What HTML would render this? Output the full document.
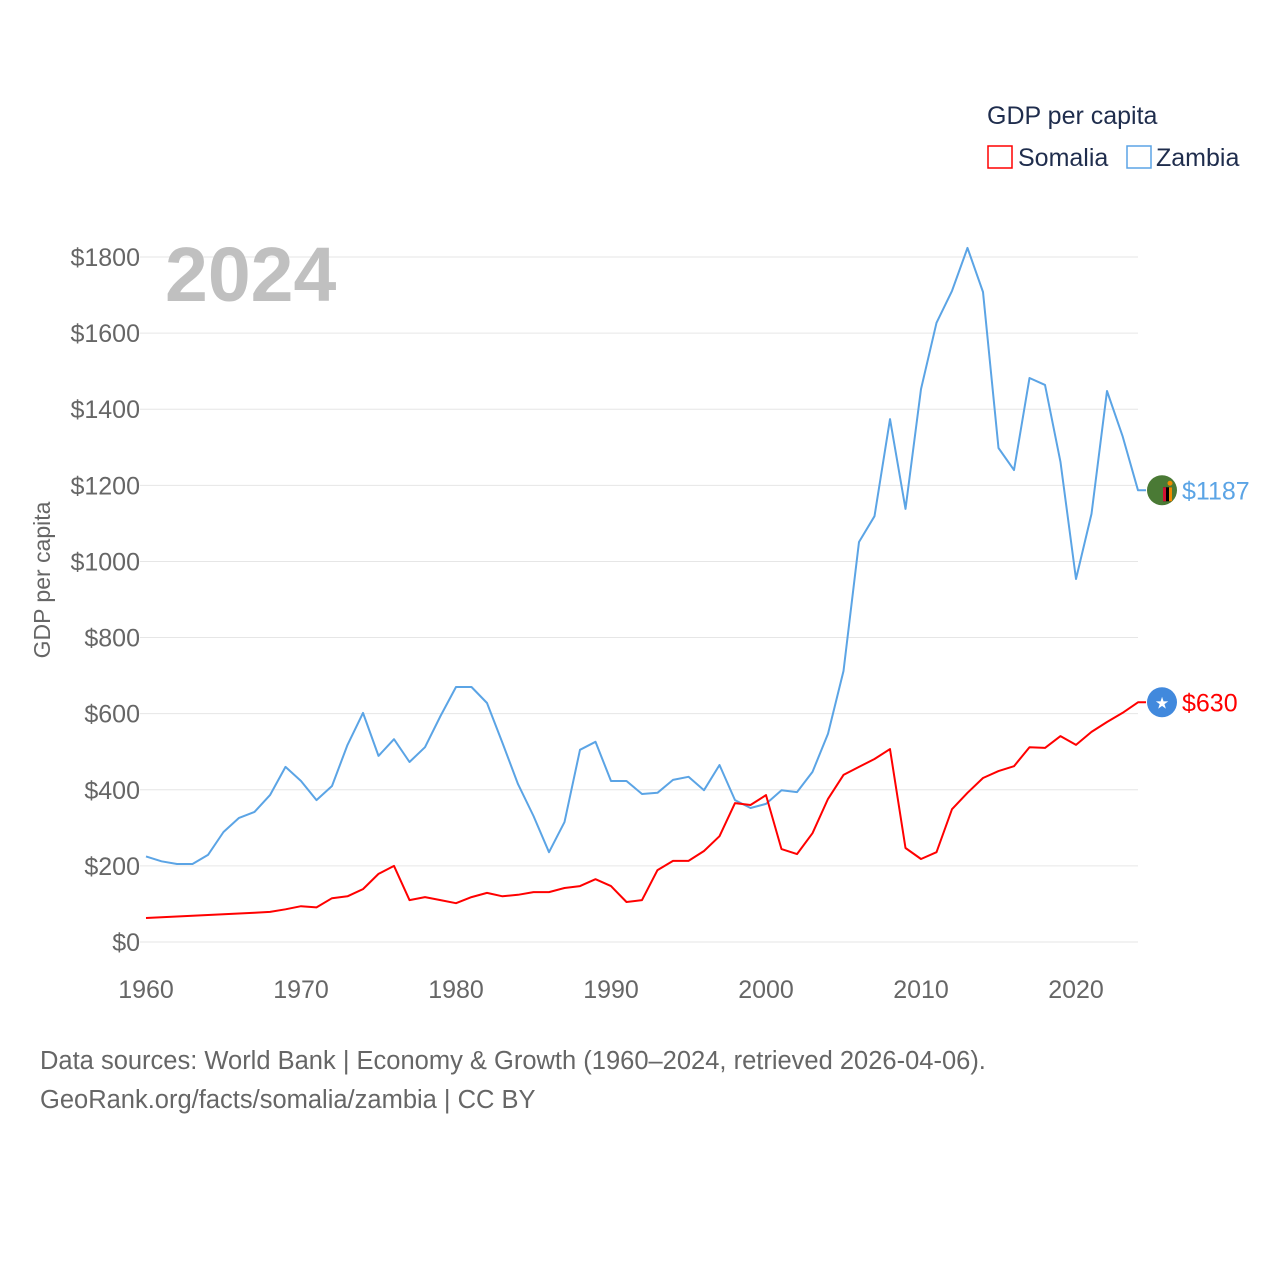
<!DOCTYPE html>
<html><head><meta charset="utf-8"><style>
body{margin:0;background:#fff;font-family:"Liberation Sans",sans-serif}
svg text{font-family:"Liberation Sans",sans-serif}
</style></head><body>
<svg id="chart" width="1280" height="1280" xmlns="http://www.w3.org/2000/svg">
<g id="grid"></g>
<g id="yticks"></g>
<g id="xticks"></g>
<text x="165" y="301" font-size="77" font-weight="bold" fill="#c0c0c0">2024</text>
<text transform="translate(50,580) rotate(-90)" text-anchor="middle" font-size="23" fill="#666">GDP per capita</text>
<g id="series"></g>
<g>
<text x="987" y="124" font-size="25" fill="#1f2d4d">GDP per capita</text>
<rect x="988" y="146" width="24" height="22" fill="none" stroke="#ff0000" stroke-width="1.5"/>
<text x="1018" y="166" font-size="25" fill="#1f2d4d">Somalia</text>
<rect x="1127" y="146" width="24" height="22" fill="none" stroke="#5ba4e5" stroke-width="1.5"/>
<text x="1156" y="166" font-size="25" fill="#1f2d4d">Zambia</text>
</g>
<text x="40" y="1069" font-size="25.5" fill="#666">Data sources: World Bank | Economy &amp; Growth (1960–2024, retrieved 2026-04-06).</text>
<text x="40" y="1108" font-size="25.5" fill="#666">GeoRank.org/facts/somalia/zambia | CC BY</text>
</svg>
<script>
const years=[];for(let y=1960;y<=2024;y++)years.push(y);
const zambia=[225,212,205,205,229,289,326,342,386,460,423,373,410,518,602,489,533,473,512,594,670,670,628,523,415,331,236,315,505,526,423,423,389,392,426,434,399,465,373,352,363,399,394,447,547,712,1051,1119,1374,1138,1453,1627,1711,1824,1708,1298,1240,1482,1464,1261,954,1125,1448,1330,1187];
const somalia=[63,65,67,69,71,73,75,77,79,86,94,91,115,120,139,179,200,110,118,110,102,118,129,120,124,131,131,142,147,165,147,105,110,189,213,213,239,278,365,360,386,244,231,286,376,439,460,481,507,247,218,236,349,392,431,449,462,512,510,541,518,552,578,602,630];
const yTicks=[0,200,400,600,800,1000,1200,1400,1600,1800];
const xTicks=[1960,1970,1980,1990,2000,2010,2020];
const NS="http://www.w3.org/2000/svg";
const X=y=>146+(y-1960)*15.5;
const Y=v=>942-v*685/1800;
function mk(t,a,p){const e=document.createElementNS(NS,t);for(const k in a)e.setAttribute(k,a[k]);p.appendChild(e);return e;}
const grid=document.getElementById('grid'),yt=document.getElementById('yticks'),xt=document.getElementById('xticks'),ser=document.getElementById('series');
yTicks.forEach(v=>{
 const l=mk('line',{x1:140,x2:1138,y1:Y(v),y2:Y(v),stroke:'#e6e6e6','stroke-width':1},grid);
 
 
 const t=mk('text',{x:140,y:Y(v)+9,'text-anchor':'end','font-size':25,fill:'#666'},yt);
 t.textContent='$'+v;
 
 
});
xTicks.forEach(v=>{
 const t=mk('text',{x:X(v),y:998,'text-anchor':'middle','font-size':25,fill:'#666'},xt);
 t.textContent=v;
 
 
});
function line(vals,col,name){
 let d=vals.map((v,i)=>(i?'L':'M')+X(years[i]).toFixed(1)+','+Y(v).toFixed(1)).join(' ');
 d+=' L'+(X(2024)+8)+','+Y(vals[vals.length-1]).toFixed(1);
 const p=mk('path',{d:d,fill:'none',stroke:col,'stroke-width':2,'stroke-linejoin':'round'},ser);
 
 
}
line(zambia,'#5ba4e5','line-zambia');
line(somalia,'#ff0000','line-somalia');
const zl=zambia[zambia.length-1],sl=somalia[somalia.length-1];
const zc=mk('circle',{cx:1162,cy:Y(zl),r:15,fill:'#4a7a35'},ser);


mk('rect',{x:1163,y:Y(zl)-3,width:9,height:14,fill:'#000'},ser);
mk('rect',{x:1163,y:Y(zl)-3,width:3,height:14,fill:'#d21034'},ser);
mk('rect',{x:1169,y:Y(zl)-3,width:3,height:14,fill:'#f08a00'},ser);
mk('circle',{cx:1170,cy:Y(zl)-7,r:2.5,fill:'#f08a00'},ser);
const zt=mk('text',{x:1182,y:Y(zl)+9,'font-size':25,fill:'#5ba4e5'},ser);zt.textContent='$'+zl;


const sc=mk('circle',{cx:1162,cy:Y(sl),r:15,fill:'#4189dd'},ser);


const st2=mk('text',{x:1162,y:Y(sl)+6,'text-anchor':'middle','font-size':16,fill:'#fff'},ser);st2.textContent='★';
const st=mk('text',{x:1182,y:Y(sl)+9,'font-size':25,fill:'#ff0000'},ser);st.textContent='$'+sl;


</script>
</body></html>
